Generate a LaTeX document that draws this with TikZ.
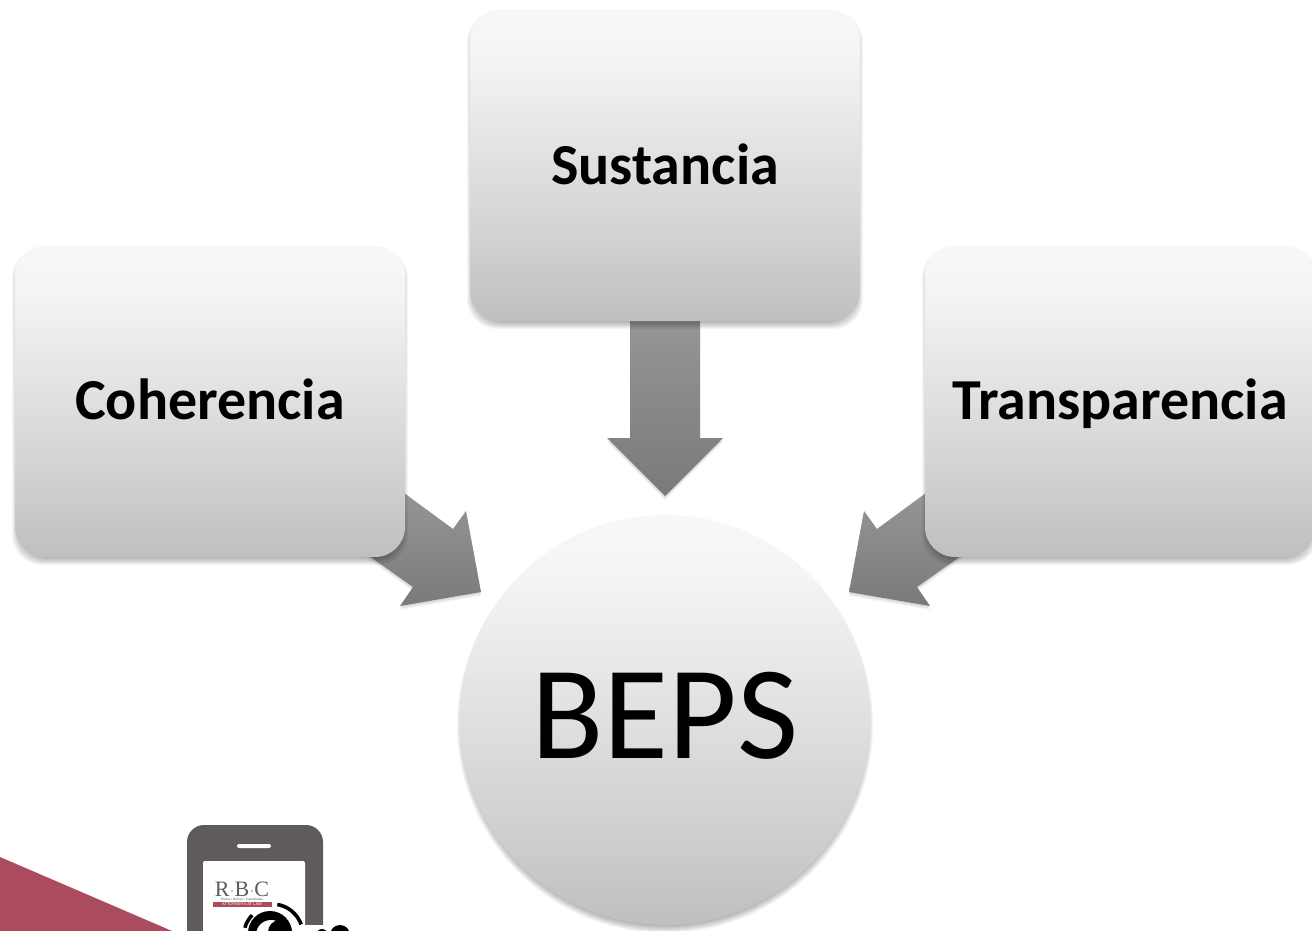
\documentclass[tikz,border=0pt]{standalone}
\usepackage{fontspec}
\setmainfont{Carlito}
\newfontfamily\logoserif{Liberation Serif}
\newfontfamily\logosans{Liberation Sans}
\definecolor{atop}{HTML}{969696}
\definecolor{abot}{HTML}{7A7A7A}
\definecolor{rbcred}{HTML}{AC4A5E}
\definecolor{phone}{HTML}{5F5B5A}
\pgfdeclareverticalshading{softgrey}{100bp}{color(0bp)=(black!25);color(25bp)=(black!25);color(40bp)=(black!17);color(55bp)=(black!10);color(68bp)=(black!4);color(75bp)=(black!3);color(100bp)=(black!3)}
\tikzset{
  x=1pt,y=-1pt,
  box/.style={rounded corners=30pt,minimum width=390pt,minimum height=311pt,inner sep=0pt,
    shading=softgrey,shading angle=0,font=\fontsize{58}{70}\selectfont\bfseries,text=black,
    text height=40pt,text depth=5pt},
  disc/.style={circle,minimum size=410pt,inner sep=0pt,shading=softgrey,shading angle=0,
    font=\fontsize{133}{150}\selectfont,text=black,text height=86pt,text depth=11pt},
  blockarrow/.style={top color=atop,bottom color=abot},
  shadowlayer/.style={fill=black,fill opacity=0.04,draw=none},
  iconline/.style={line width=3.6pt,black,smooth,samples=12},
}
\newcommand{\boxshadow}[4]{%
  \foreach \s in {-5,-4,...,3}{%
    \fill[shadowlayer,rounded corners=30pt] (#1-\s,#2+5-\s) rectangle (#3+\s,#4+5+\s);}}
\newcommand{\arrowshadow}[1]{%
  \foreach \s in {1,2,3,4}{%
    \fill[shadowlayer,shift={(0,\s)}] #1;}}
\begin{document}
\begin{tikzpicture}
\useasboundingbox (0,0) rectangle (1312,931);
\clip (0,0) rectangle (1312,931);
\fill[white] (0,0) rectangle (1312,931);

% logo
\fill[rbcred] (0,857) -- (172,931) -- (0,931) -- cycle;
\fill[phone,rounded corners=17pt] (187,960) -- (187,825) -- (323,825) -- (323,960) -- cycle;
\fill[white,rounded corners=2pt] (203,861) rectangle (305,960);
\fill[white] (305,925) rectangle (330,931);
\fill[white,rounded corners=2pt] (237,844) rectangle (271,848);
\node[font=\logoserif\fontsize{22}{22}\selectfont,text=phone,inner sep=0pt,text height=13pt,text depth=0pt] (rbc) at (242,890) {R\kern1.5pt\raisebox{3.5pt}{\fontsize{6}{6}\selectfont\textbullet}\kern1.5pt B\kern1.5pt\raisebox{3.5pt}{\fontsize{6}{6}\selectfont\textbullet}\kern1.5pt C};
\node[font=\logosans\fontsize{3.2}{3.2}\selectfont,text=phone,inner sep=0pt,text height=2.2pt,text depth=0pt] (rbcsub) at (242,899) {Rivera • Bolívar • Castañedas};
\node[fill=rbcred,minimum width=59pt,minimum height=5pt,inner sep=0pt,text=white,font=\logosans\fontsize{4}{4}\selectfont,text height=3pt,text depth=0pt] (rbcband) at (242,904) {ATTORNEYS AT LAW};
\draw[iconline,domain=165:135] plot ({272+28*cos(\x)},{935-28*sin(\x)});
\draw[iconline,domain=80:20] plot ({272+31*cos(\x)},{935-31*sin(\x)});
\fill[black] (270,933) circle[radius=22];
\fill[white] (271,935) circle[radius=15];
\fill[black] (280,932) circle[radius=12];
\fill[black] (322,935) circle[radius=6];
\fill[black] (340,935) circle[radius=10];

% block arrows
\arrowshadow{(630,315) -- (700,315) -- (700,438) -- (723,438) -- (665,496) -- (607,438) -- (630,438) -- cycle}
\path[blockarrow] (630,315) -- (700,315) -- (700,438) -- (723,438) -- (665,496) -- (607,438) -- (630,438) -- cycle;

\arrowshadow{(400,490) -- (453,529) -- (466,511) -- (481,592) -- (400,606) -- (413,587) -- (365,553) -- cycle}
\path[blockarrow] (400,490) -- (453,529) -- (466,511) -- (481,592) -- (400,606) -- (413,587) -- (365,553) -- cycle;

\arrowshadow{(930,490) -- (877,529) -- (864,511) -- (849,592) -- (930,606) -- (917,587) -- (965,553) -- cycle}
\path[blockarrow] (930,490) -- (877,529) -- (864,511) -- (849,592) -- (930,606) -- (917,587) -- (965,553) -- cycle;

% shadows of the shapes
\boxshadow{470}{10}{860}{321}
\boxshadow{15}{246}{405}{557}
\boxshadow{925}{246}{1315}{557}
\foreach \s in {-5,-4,...,3}{\fill[shadowlayer] (665,725) circle[radius=205+\s];}

% shapes
\node[box,text depth=1pt] (sust) at (665,165.5) {Sustancia};
\node[box] (cohe) at (210,401.5) {Coherencia};
\node[box] (tran) at (1120,401.5) {Transparencia};
\node[disc,text depth=10pt] (beps) at (665,720) {BEPS};
\end{tikzpicture}
\end{document}
